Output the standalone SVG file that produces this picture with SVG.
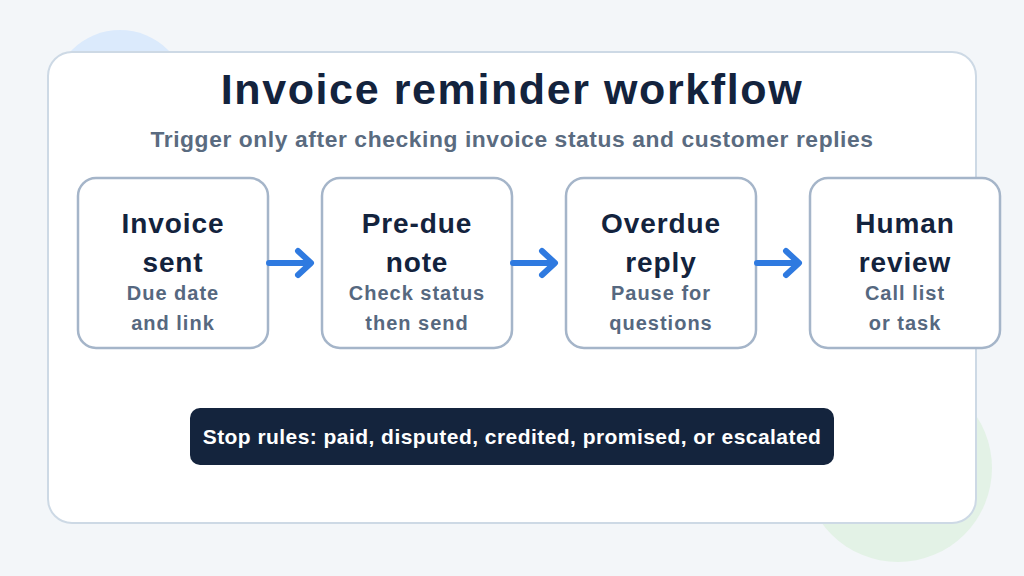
<svg xmlns="http://www.w3.org/2000/svg" width="1024" height="576" viewBox="0 0 1024 576">
<defs>
<style>
.node rect{fill:#ffffff;stroke:#a5b5c9;stroke-width:2.5}
.t{font-family:"Liberation Sans",Arial,sans-serif;font-weight:700;text-anchor:middle}
.nt{font-size:28px;fill:#13233d;letter-spacing:0.9px}
.ns{font-size:20px;fill:#56687f;letter-spacing:1px}
.conn path{fill:none;stroke:#2f7ae0;stroke-width:6;stroke-linecap:round;stroke-linejoin:round}
</style>
</defs>
<rect x="0" y="0" width="1024" height="576" fill="#f3f6f9"/>
<circle cx="120" cy="98" r="68" fill="#dbeafc"/>
<circle cx="898" cy="468" r="94" fill="#e3f2e6"/>
<rect x="48" y="52" width="928" height="471" rx="24" fill="#ffffff" stroke="#cdd9e5" stroke-width="2"/>
<text class="t" x="512" y="104" font-size="43" fill="#13233d" letter-spacing="1.6">Invoice reminder workflow</text>
<text class="t" x="512" y="147" font-size="22.8" fill="#5a6b80" letter-spacing="0.6">Trigger only after checking invoice status and customer replies</text>
<g id="node-invoice-sent" class="node">
<rect x="78" y="178" width="190" height="170" rx="18"/>
<text class="t nt" x="173" y="233">Invoice</text>
<text class="t nt" x="173" y="272">sent</text>
<text class="t ns" x="173" y="300">Due date</text>
<text class="t ns" x="173" y="330">and link</text>
</g>
<g id="node-pre-due" class="node">
<rect x="322" y="178" width="190" height="170" rx="18"/>
<text class="t nt" x="417" y="233">Pre-due</text>
<text class="t nt" x="417" y="272">note</text>
<text class="t ns" x="417" y="300">Check status</text>
<text class="t ns" x="417" y="330">then send</text>
</g>
<g id="node-overdue" class="node">
<rect x="566" y="178" width="190" height="170" rx="18"/>
<text class="t nt" x="661" y="233">Overdue</text>
<text class="t nt" x="661" y="272">reply</text>
<text class="t ns" x="661" y="300">Pause for</text>
<text class="t ns" x="661" y="330">questions</text>
</g>
<g id="node-human-review" class="node">
<rect x="810" y="178" width="190" height="170" rx="18"/>
<text class="t nt" x="905" y="233">Human</text>
<text class="t nt" x="905" y="272">review</text>
<text class="t ns" x="905" y="300">Call list</text>
<text class="t ns" x="905" y="330">or task</text>
</g>
<g id="connectors" class="conn">
<path d="M269 263 H310 M298 251 L311 263 L298 275"/>
<path d="M513 263 H554 M542 251 L555 263 L542 275"/>
<path d="M757 263 H798 M786 251 L799 263 L786 275"/>
</g>
<g id="stop-rules">
<rect x="190" y="408" width="644" height="57" rx="10" fill="#14243d"/>
<text class="t" x="512" y="444" font-size="21" fill="#ffffff" letter-spacing="0.45">Stop rules: paid, disputed, credited, promised, or escalated</text>
</g>
</svg>
